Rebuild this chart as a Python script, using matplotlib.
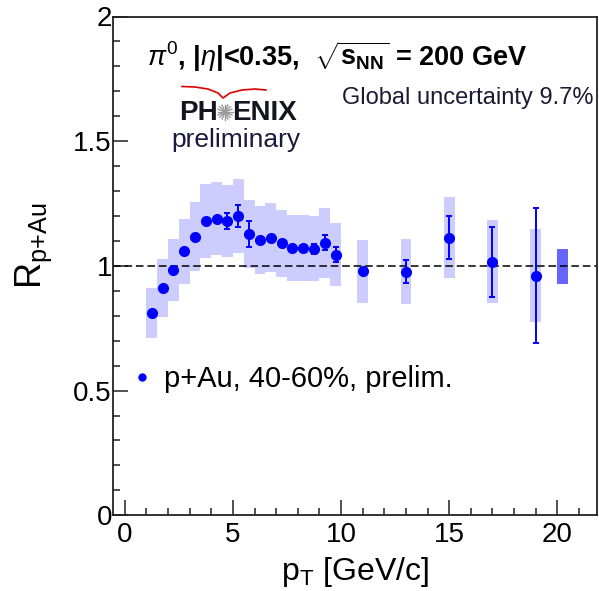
import numpy as np
import matplotlib
matplotlib.use("Agg")
import matplotlib.pyplot as plt
from matplotlib.patches import Rectangle
from matplotlib.lines import Line2D

plt.rcParams['font.family'] = ['Liberation Sans', 'DejaVu Sans']
plt.rcParams['mathtext.fontset'] = 'custom'
plt.rcParams['mathtext.rm'] = 'Liberation Sans'
plt.rcParams['mathtext.it'] = 'Liberation Sans:italic'
plt.rcParams['mathtext.bf'] = 'Liberation Sans:bold'

# p+Au 40-60% pi0 R_pAu
pt = [1.25, 1.75, 2.25, 2.75, 3.25, 3.75, 4.25, 4.75, 5.25, 5.75, 6.25, 6.75,
      7.25, 7.75, 8.25, 8.75, 9.25, 9.75, 11, 13, 15, 17, 19]
rpau = [0.81, 0.91, 0.984, 1.058, 1.117, 1.18, 1.19, 1.18, 1.20, 1.127, 1.104, 1.113,
        1.09, 1.072, 1.072, 1.069, 1.093, 1.045, 0.978, 0.977, 1.113, 1.017, 0.961]
stat = [0.01, 0.01, 0.01, 0.01, 0.01, 0.01, 0.01, 0.033, 0.043, 0.053, 0.01, 0.01,
        0.01, 0.01, 0.01, 0.02, 0.029, 0.03, 0.01, 0.047, 0.087, 0.14, 0.27]
syst = [0.10, 0.116, 0.124, 0.13, 0.139, 0.147, 0.146, 0.146, 0.149, 0.137, 0.136, 0.138,
        0.136, 0.131, 0.134, 0.13, 0.14, 0.127, 0.127, 0.13, 0.162, 0.166, 0.185]
box_hw = 0.25

glob_x = 20.23
glob_lo, glob_hi = 0.928, 1.069

W, H = 599, 591
fig = plt.figure(figsize=(W / 100, H / 100), dpi=100)
ax = fig.add_axes([113.3 / W, 1 - 515.3 / H, (596.7 - 113.3) / W, (515.3 - 16.5) / H])

def fpx(x, y):
    # pixel position -> figure fraction
    return x / W, 1 - y / H

# systematic boxes
for x, y, s in zip(pt, rpau, syst):
    ax.add_patch(Rectangle((x - box_hw, y - s), 2 * box_hw, 2 * s,
                           facecolor='#ccccff', edgecolor='none', zorder=1))
# global uncertainty box
ax.add_patch(Rectangle((glob_x - box_hw, glob_lo), 2 * box_hw, glob_hi - glob_lo,
                       facecolor='#6666ff', edgecolor='none', zorder=1))

ax.axhline(1.0, color='black', lw=1.1, ls=(0, (5, 2.5)), zorder=2)

ax.errorbar(pt, rpau, yerr=stat, fmt='o', color='#0000ff', ms=7, lw=1.4,
            capsize=2.5, capthick=1.4, zorder=3)

ax.set_xlim(-0.53, 21.82)
ax.set_ylim(0, 2)
ax.set_xticks([0, 5, 10, 15, 20])
ax.set_xticks(np.arange(0, 22, 1), minor=True)
ax.set_yticks([0, 0.5, 1, 1.5, 2])
ax.set_yticklabels(['0', '0.5', '1', '1.5', '2'])
ax.set_yticks(np.arange(0, 2.01, 0.1), minor=True)
ax.tick_params(which='both', direction='in', top=False, right=False, width=1.1,
               labelsize=20, color='#222222')
ax.tick_params(which='major', length=11)
ax.tick_params(which='minor', length=5)
ax.tick_params(axis='y', pad=1)
ax.tick_params(axis='x', pad=5)
for sp in ax.spines.values():
    sp.set_linewidth(1.3)
    sp.set_color('#222222')

ax.set_xlabel(r'p$_{\mathrm{T}}$ [GeV/c]', fontsize=23)
ax.xaxis.set_label_coords(0.5, -0.08)
ax.set_ylabel(r'R$_{\mathrm{p{+}Au}}$', fontsize=26)
ax.yaxis.set_label_coords(-0.122, 0.54)

mk = Line2D([], [], marker='o', ls='none', color='#0000ff', ms=5)
ax.legend(handles=[mk], labels=['p+Au, 40-60%, prelim.'], loc='center left',
          bbox_to_anchor=(0.012, 0.273), frameon=False, fontsize=21,
          handlelength=0.8, handletextpad=0.35, borderaxespad=0)

# header text
fig.text(*fpx(147, 66),
         r'$\pi^{0}$, |$\eta$|<0.35,  $\sqrt{\mathbf{s}_{\mathbf{NN}}}$ = 200 GeV',
         fontsize=19.5, fontweight='bold', ha='left', va='baseline')
fig.text(*fpx(342, 104), 'Global uncertainty 9.7%', fontsize=17, ha='left',
         va='baseline', color='#1a1a33')

# PHENIX logo
fig.text(*fpx(218, 120), 'PH', fontsize=20, fontweight='bold', ha='right', va='baseline',
         color='#151520')
fig.text(*fpx(232, 120), 'ENIX', fontsize=20, fontweight='bold', ha='left', va='baseline',
         color='#151520')
cx, cy = 225, 112
for a in np.linspace(0, np.pi, 9)[:-1]:
    x0, y0 = fpx(cx - 7.5 * np.cos(a), cy - 7.5 * np.sin(a))
    x1, y1 = fpx(cx + 7.5 * np.cos(a), cy + 7.5 * np.sin(a))
    fig.add_artist(Line2D([x0, x1], [y0, y1], color='#999999', lw=1.0))
arc_px = [182, 195, 208, 218, 223, 230, 242, 255, 266]
arc_py = [86.5, 87, 89, 93, 98, 93, 90, 89, 90]
fig.add_artist(Line2D([p / W for p in arc_px], [1 - p / H for p in arc_py],
                      color='#dd0000', lw=1.2))
fig.text(*fpx(236, 147), 'preliminary', fontsize=19, ha='center', va='baseline',
         color='#1a1a40')

fig.savefig('out.png', dpi=100)
